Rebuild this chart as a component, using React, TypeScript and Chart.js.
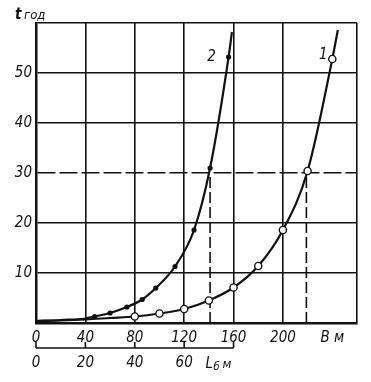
import React, { useEffect, useRef } from 'react';
import { Chart, registerables } from 'chart.js';

Chart.register(...registerables);

// ---- data ----
// primary horizontal axis: B, m ; vertical axis: t, years
const B_TICKS = [0, 40, 80, 120, 160, 200, 240, 260];
const B_LABELS = ['0', '40', '80', '120', '160', '200', 'B м', ''];
const T_TICKS = [0, 10, 20, 30, 40, 50, 60];
// secondary axis: L_б, m (drawn only from 0 to 60)
const L_TICKS = [0, 20, 40, 60];
const L_BRACKET = [0, 20, 40, 60, 80];

// curve 1 (open circles)
const curve1B = [0, 20, 40, 60, 80, 100, 120, 140, 160, 180, 200, 220, 240, 244.5];
const curve1T = [0.4, 0.5, 0.7, 1.0, 1.3, 1.9, 2.8, 4.5, 7.1, 11.4, 18.6, 30.4, 52.8, 58.6];
const marks1B = [80, 100, 120, 140, 160, 180, 200, 220, 240];
const marks1T = [1.3, 1.9, 2.8, 4.5, 7.1, 11.4, 18.6, 30.4, 52.8];

// curve 2 (filled dots)
const curve2B = [0, 20, 40, 47.5, 60, 73.6, 86, 97, 112.6, 128, 141, 156, 158.7];
const curve2T = [0.4, 0.6, 0.9, 1.3, 2.0, 3.2, 4.7, 7.0, 11.3, 18.6, 31.0, 53.2, 58.2];
const marks2B = [47.5, 60, 73.6, 86, 97, 112.6, 128, 141, 156];
const marks2T = [1.3, 2.0, 3.2, 4.7, 7.0, 11.3, 18.6, 31.0, 53.2];

// dashed drop lines from t = 30
const dropB = [141, 219];
const dropT = 30;
const DASHED_T = 30;

const INK = '#111111';
const FONT = "'DejaVu Sans Condensed', 'Liberation Sans Narrow', 'DejaVu Sans', sans-serif";

const pts = (xs: number[], ys: number[]) => xs.map((x, i) => ({ x, y: ys[i] }));

export default function App() {
  const ref = useRef<HTMLCanvasElement>(null);

  useEffect(() => {
    const canvas = ref.current!;
    const overlay = {
      id: 'overlay',
      afterDraw(chart: any) {
        const { ctx, chartArea } = chart;
        const xs = chart.scales.x;
        const ys = chart.scales.y;
        const x2 = chart.scales.x2;
        ctx.save();
        ctx.fillStyle = INK;
        ctx.strokeStyle = INK;
        // axis title "t год"
        ctx.textBaseline = 'alphabetic';
        ctx.textAlign = 'left';
        ctx.font = `italic bold 15px ${FONT}`;
        ctx.fillText('t', chartArea.left - 21, chartArea.top - 4);
        ctx.font = `italic 13px ${FONT}`;
        ctx.fillText('год', chartArea.left - 12, chartArea.top - 4);
        // curve labels
        ctx.font = `italic 15px ${FONT}`;
        ctx.textAlign = 'center';
        ctx.textBaseline = 'middle';
        const i2 = marks2B.length - 1;
        ctx.fillText('2', xs.getPixelForValue(marks2B[i2]) - 17, ys.getPixelForValue(marks2T[i2]));
        const i1 = marks1B.length - 1;
        ctx.fillText('1', xs.getPixelForValue(marks1B[i1]) - 9, ys.getPixelForValue(marks1T[i1]) - 4);
        // bracket of the L axis
        const yb = x2.top;
        const xa = x2.getPixelForValue(L_BRACKET[0]);
        const xb = x2.getPixelForValue(L_BRACKET[L_BRACKET.length - 1]);
        ctx.lineWidth = 1.6;
        ctx.beginPath();
        ctx.moveTo(xa, yb);
        ctx.lineTo(xb, yb);
        for (const v of L_BRACKET) {
          const px = x2.getPixelForValue(v);
          ctx.moveTo(px, yb);
          ctx.lineTo(px, yb - 6);
        }
        ctx.stroke();
        // "L_б м"
        const lx = xb - 28;
        const ly = x2.top + 20;
        ctx.textAlign = 'left';
        ctx.textBaseline = 'alphabetic';
        ctx.font = `italic 15px ${FONT}`;
        ctx.fillText('L', lx, ly);
        ctx.font = `italic 11px ${FONT}`;
        ctx.fillText('б', lx + 8, ly + 2);
        ctx.font = `italic 13px ${FONT}`;
        ctx.fillText('м', lx + 17, ly);
        ctx.restore();
      },
    };

    const tickFont = { family: FONT, size: 15, style: 'italic' as const };

    const chart = new Chart(canvas, {
      type: 'scatter',
      data: {
        datasets: [
          {
            data: pts(marks1B, marks1T),
            pointRadius: 3.6,
            pointBackgroundColor: '#ffffff',
            pointBorderColor: INK,
            pointBorderWidth: 1.4,
            showLine: false,
          },
          {
            data: pts(marks2B, marks2T),
            pointRadius: 2.6,
            pointBackgroundColor: INK,
            pointBorderColor: INK,
            pointBorderWidth: 0,
            showLine: false,
          },
          {
            data: pts(curve1B, curve1T),
            showLine: true,
            borderColor: INK,
            borderWidth: 2.2,
            pointRadius: 0,
            cubicInterpolationMode: 'monotone',
          },
          {
            data: pts(curve2B, curve2T),
            showLine: true,
            borderColor: INK,
            borderWidth: 2.2,
            pointRadius: 0,
            cubicInterpolationMode: 'monotone',
          },
          ...dropB.map((b) => ({
            data: [
              { x: b, y: 0 },
              { x: b, y: dropT },
            ],
            showLine: true,
            borderColor: INK,
            borderWidth: 1.6,
            borderDash: [11, 4],
            pointRadius: 0,
          })),
        ] as any,
      },
      options: {
        animation: false,
        responsive: false,
        layout: { padding: { top: 23, right: 14, left: 0, bottom: 0 } },
        plugins: { legend: { display: false }, tooltip: { enabled: false } },
        scales: {
          x: {
            type: 'linear',
            position: 'bottom',
            min: 0,
            max: 260,
            weight: 0,
            afterBuildTicks: (s: any) => {
              s.ticks = B_TICKS.map((v) => ({ value: v }));
            },
            afterFit: (s: any) => {
              s.height = 25;
            },
            ticks: {
              autoSkip: false,
              maxRotation: 0,
              padding: 6,
              color: INK,
              font: tickFont,
              callback: (v: any) => {
                const i = B_TICKS.indexOf(Number(v));
                return i >= 0 ? B_LABELS[i] : '';
              },
            },
            grid: {
              drawTicks: false,
              lineWidth: 1.6,
              color: (c: any) => (c.tick && c.tick.value === 240 ? 'rgba(0,0,0,0)' : INK),
            },
            border: { display: true, color: INK, width: 2.5 },
          },
          x2: {
            type: 'linear',
            position: 'bottom',
            min: 0,
            max: 130,
            weight: 1,
            afterBuildTicks: (s: any) => {
              s.ticks = L_TICKS.map((v) => ({ value: v }));
            },
            afterFit: (s: any) => {
              s.height = 34;
            },
            ticks: {
              autoSkip: false,
              maxRotation: 0,
              padding: 6,
              color: INK,
              font: tickFont,
              callback: (v: any) => String(v),
            },
            grid: { display: false, drawTicks: false },
            border: { display: false },
          },
          y: {
            type: 'linear',
            min: 0,
            max: 60,
            afterBuildTicks: (s: any) => {
              s.ticks = T_TICKS.map((v) => ({ value: v }));
            },
            afterFit: (s: any) => {
              s.width = 36;
            },
            ticks: {
              padding: 4,
              color: INK,
              font: tickFont,
              callback: (v: any) => (Number(v) === 0 || Number(v) === 60 ? '' : String(v)),
            },
            grid: { drawTicks: false, lineWidth: 1.6, color: INK },
            border: {
              display: true,
              color: INK,
              width: 2.5,
              dash: (c: any) => (c.tick && c.tick.value === DASHED_T ? [18, 4] : []),
            },
          },
        },
      } as any,
      plugins: [overlay],
    });
    return () => chart.destroy();
  }, []);

  return (
    <div style={{ position: 'absolute', left: 0, top: 0, width: 371, height: 382, background: '#fff' }}>
      <canvas ref={ref} width={371} height={382} style={{ width: 371, height: 382, display: 'block' }} />
    </div>
  );
}
